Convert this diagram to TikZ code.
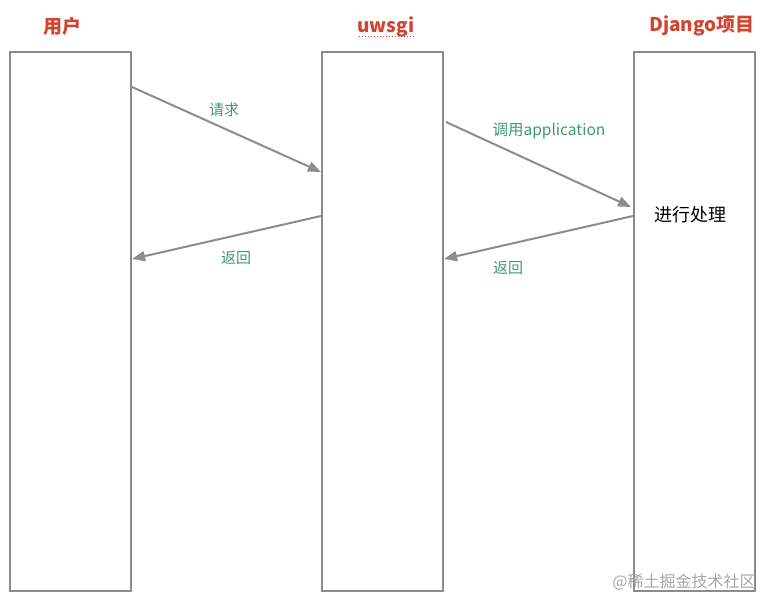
\documentclass[tikz,border=0pt]{standalone}
\usepackage{fontspec}
\setmainfont{Noto Sans CJK SC}
\usetikzlibrary{arrows.meta,calc,positioning}
\definecolor{titlered}{HTML}{D0452F}
\definecolor{labelgreen}{HTML}{3E9A6C}
\definecolor{linegray}{HTML}{8C8C8C}

\begin{document}
\begin{tikzpicture}[x=1pt,y=-1pt,
  lane/.style={draw=linegray,line width=2pt,minimum width=121pt,minimum height=539pt,inner sep=0pt},
  title/.style={text=titlered,font=\fontsize{19}{22}\selectfont\bfseries},
  msg/.style={draw=linegray,line width=2pt,-{Triangle[length=13pt,width=10pt]}},
  lbl/.style={text=labelgreen,font=\fontsize{15}{17}\selectfont}]
\useasboundingbox (0,0) rectangle (774,608);
% Lanes
\node[lane] (user) at (70.5,321.5) {};
\node[lane] (uwsgi) at (382.5,321.5) {};
\node[lane] (django) at (694.5,321.5) {};
% Titles
\node[title] (tuser) at (62,26) {用户};
\node[title] (tuwsgi) at (386,27) {uwsgi};
\draw[titlered,dotted,line width=1pt] ($(tuwsgi.south west)+(5,-4)$) -- ($(tuwsgi.south east)+(-5,-4)$);
\node[title] (tdjango) at (702,26) {Django项目};
% Messages
\draw[msg] ($(user.north east)+(0,36)$) -- ($(uwsgi.north west)+(0,121)$);
\draw[msg] ($(uwsgi.north west)+(0,165)$) -- ($(user.north east)+(0,208)$);
\draw[msg] ($(uwsgi.north east)+(2,71)$) -- ($(django.north west)+(-2,156)$);
\draw[msg] ($(django.north west)+(0,165)$) -- ($(uwsgi.north east)+(0,208)$);
% Labels
\node[lbl] (lreq) at (224,110) {请求};
\node[lbl] (lret1) at (236,258) {返回};
\node[lbl,font=\fontsize{15.5}{17}\selectfont] (lcall) at (549,131) {调用application};
\node[lbl] (lret2) at (508,268) {返回};
\node[font=\fontsize{18}{20}\selectfont] (work) at (690,215) {进行处理};
% Watermark
\node[text=gray!70,font=\fontsize{16}{18}\selectfont] (mark) at (684,582) {@稀土掘金技术社区};
\end{tikzpicture}
\end{document}
